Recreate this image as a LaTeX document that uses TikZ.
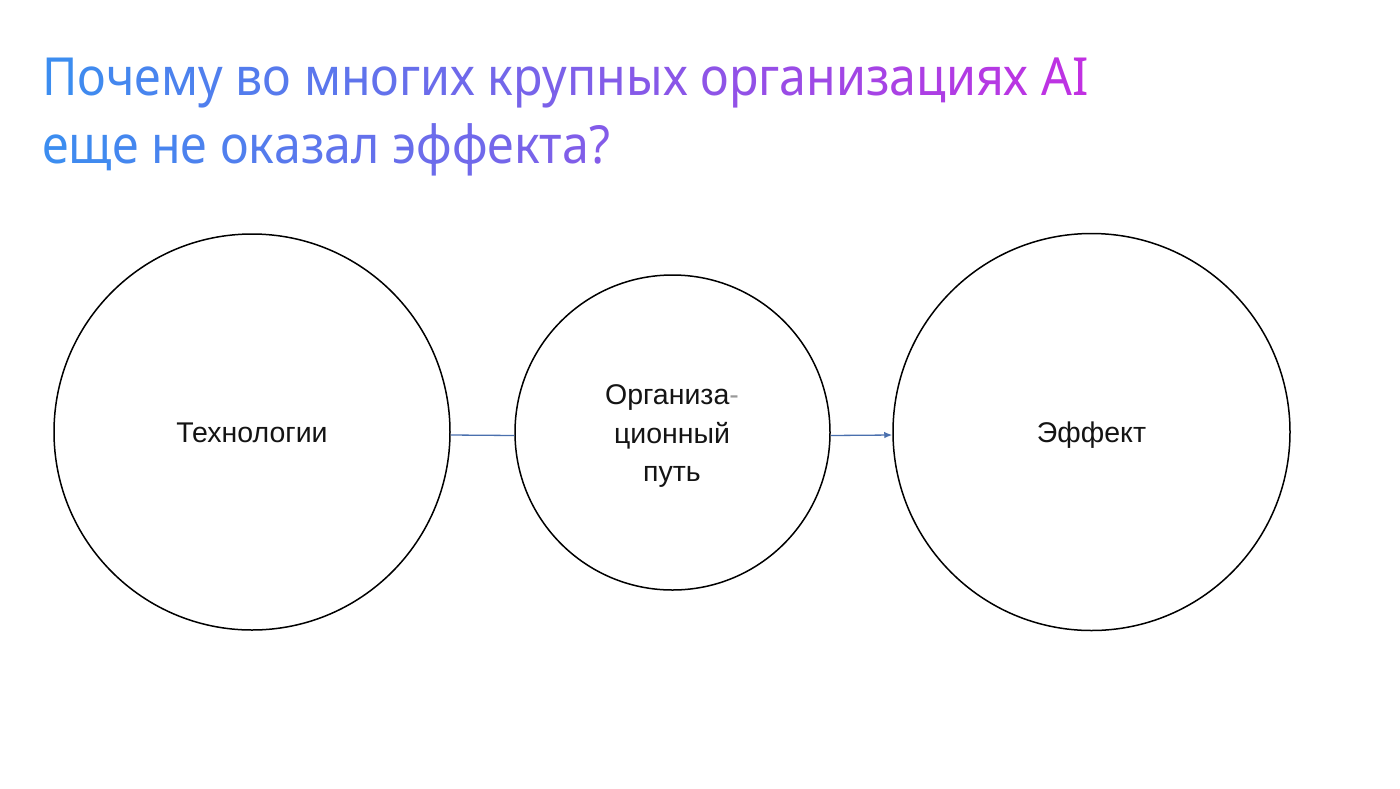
\documentclass[tikz,border=0pt]{standalone}
\usepackage{fontspec}
\setmainfont{Liberation Sans}
\newfontfamily\titlefam[FakeStretch=0.92]{Noto Sans}
\usetikzlibrary{arrows.meta}
\definecolor{gradA}{HTML}{3A8EF0}
\definecolor{gradB}{HTML}{C32FE2}
\definecolor{connblue}{HTML}{4A70AE}
\ExplSyntaxOn
\seq_new:N \l_grad_words_seq
\int_new:N \l_grad_total_int
\int_new:N \l_grad_idx_int
\tl_new:N \l_grad_pct_tl
\NewDocumentCommand\gradtext{mmm}
 {
  \seq_set_split:Nnn \l_grad_words_seq { ~ } {#1}
  \int_zero:N \l_grad_total_int
  \seq_map_inline:Nn \l_grad_words_seq
    { \int_add:Nn \l_grad_total_int { \tl_count:n {##1} } }
  \int_zero:N \l_grad_idx_int
  \seq_map_indexed_inline:Nn \l_grad_words_seq
    {
     \int_compare:nNnT {##1} > {1} { \c_space_tl }
     \tl_map_inline:nn {##2}
       {
        \tl_set:Nx \l_grad_pct_tl
          { \fp_eval:n { round( #2 + (#3 - #2) * (\l_grad_idx_int + 0.5) / \l_grad_total_int , 1) } }
        \textcolor{gradB!\l_grad_pct_tl!gradA}{####1}
        \int_incr:N \l_grad_idx_int
       }
    }
 }
\ExplSyntaxOff
\begin{document}
\begin{tikzpicture}[x=1pt,y=-1pt,
  ring/.style={circle, draw=black, line width=1.5pt, inner sep=0pt},
  bodytext/.style={font=\fontsize{28.5}{38.5}\selectfont, text=black!92},
  titletext/.style={inner sep=0pt, anchor=base west, font=\titlefam\fontsize{52.5}{68}\selectfont},
  conn/.style={draw=connblue, line width=1.3pt}]
\useasboundingbox[fill=white] (0,0) rectangle (1400,788);
% title
\node[titletext] (tone) at (42,95) {\gradtext{Почему во многих крупных организациях AI}{0}{100}};
\node[titletext] (ttwo) at (42,163) {\gradtext{еще не оказал эффекта?}{0}{55}};
% circles
\node[ring, minimum size=396pt, bodytext, text height=20pt, text depth=0pt] (tech) at (252,432) {Технологии};
\node[ring, minimum size=315pt] (org) at (672.5,432.5) {};
\node[bodytext, align=center, inner sep=0pt] (orgtext) at (672,436)
  {Организа\textcolor{black!40}{-}\\ционный\\путь};
\node[ring, minimum size=397pt, bodytext, text height=20pt, text depth=0pt] (eff) at (1091.5,432) {Эффект};
% connectors
\draw[conn] ([yshift=-3pt]tech.east) -- ([yshift=-3pt]org.west);
\draw[conn, -{Latex[length=8pt,width=6.5pt]}] ([yshift=-3pt]org.east) -- ([yshift=-3pt]eff.west);
\end{tikzpicture}
\end{document}
